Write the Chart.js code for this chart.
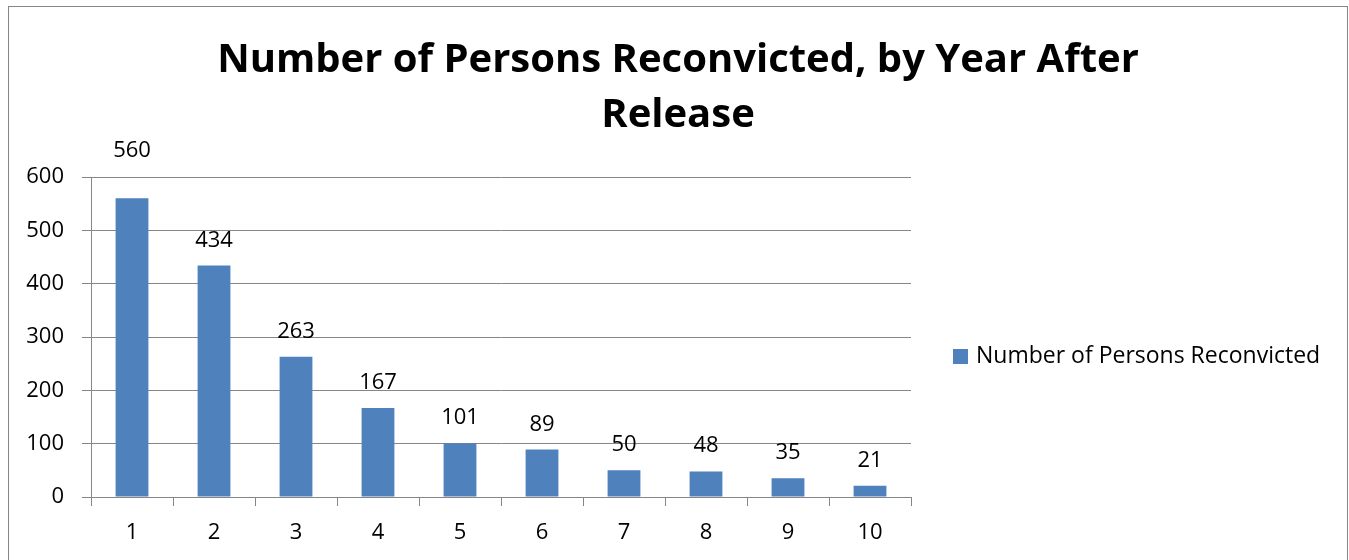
<!DOCTYPE html>
<html>
<head>
<meta charset="utf-8">
<script src="https://cdn.jsdelivr.net/npm/chart.js@4/dist/chart.umd.min.js"></script>
<style>
    html, body { margin: 0; padding: 0; background: #fff; overflow: hidden; }
    #wrap { position: relative; width: 1349px; height: 560px; }
    #marco { position: absolute; left: 8px; top: 6px; width: 1340px; height: 600px; border: 1px solid #868686; box-sizing: border-box; }
    canvas { position: absolute; left: 0; top: 0; }
</style>
</head>
<body>
<div id="wrap">
    <div id="marco"></div>
    <canvas id="grafico" width="1349" height="560"></canvas>
</div>
<script>
// DATOS
const titulo = ['Number of Persons Reconvicted, by Year After', 'Release'];
const serieNombre = 'Number of Persons Reconvicted';
const anios = ['1', '2', '3', '4', '5', '6', '7', '8', '9', '10'];
const reconvictos = [560, 434, 263, 167, 101, 89, 50, 48, 35, 21];
const ticksY = [0, 100, 200, 300, 400, 500, 600];

const fuente = '"Open Sans", sans-serif';
const gris = '#868686';
const azul = '#4F81BD';

// titulo, leyenda y etiquetas a mano
const extras = {
    id: 'extras',
    afterDraw(chart) {
        const ctx = chart.ctx;
        const area = chart.chartArea;
        ctx.save();

        // TITULO
        ctx.fillStyle = '#000';
        ctx.textAlign = 'center';
        ctx.textBaseline = 'alphabetic';
        ctx.font = 'bold 40px ' + fuente;
        ctx.fillText(titulo[0], 678, 72);
        ctx.fillText(titulo[1], 678, 127);

        // ETIQUETAS
        ctx.font = '22px ' + fuente;
        const meta = chart.getDatasetMeta(0);
        meta.data.forEach((bar, i) => {
            let base = bar.y - 19;
            if (base - 16 < area.top + 4) base = area.top - 20;
            ctx.fillText(String(reconvictos[i]), bar.x, base);
        });

        // LEYENDA
        const ds = chart.data.datasets[0];
        ctx.fillStyle = ds.backgroundColor;
        ctx.fillRect(953, 349, 15, 15);
        ctx.fillStyle = '#000';
        ctx.textAlign = 'left';
        ctx.font = '23px ' + fuente;
        ctx.fillText(ds.label, 976, 363);

        ctx.restore();
    }
};

const ctx = document.getElementById('grafico').getContext('2d');
new Chart(ctx, {
    type: 'bar',
    data: {
        labels: anios,
        datasets: [{
            label: serieNombre,
            data: reconvictos,
            backgroundColor: azul,
            borderWidth: 0,
            categoryPercentage: 1,
            barPercentage: 0.4
        }]
    },
    options: {
        responsive: false,
        animation: false,
        events: [],
        layout: { padding: { top: 177, right: 438, left: 0, bottom: 0 } },
        plugins: {
            legend: { display: false },
            title: { display: false },
            tooltip: { enabled: false }
        },
        scales: {
            x: {
                afterFit: s => { s.height = 63; },
                grid: { offset: true, drawOnChartArea: false, color: gris, tickLength: 9 },
                border: { color: gris },
                ticks: { color: '#000', font: { family: fuente, size: 22 }, padding: 14 }
            },
            y: {
                min: 0,
                max: 600,
                afterFit: s => { s.width = 91; },
                afterBuildTicks: s => { s.ticks = ticksY.map(v => ({ value: v })); },
                grid: { color: gris, tickLength: 9 },
                border: { color: gris },
                ticks: { color: '#000', font: { family: fuente, size: 22 }, padding: 18 }
            }
        }
    },
    plugins: [extras]
});
</script>
</body>
</html>
